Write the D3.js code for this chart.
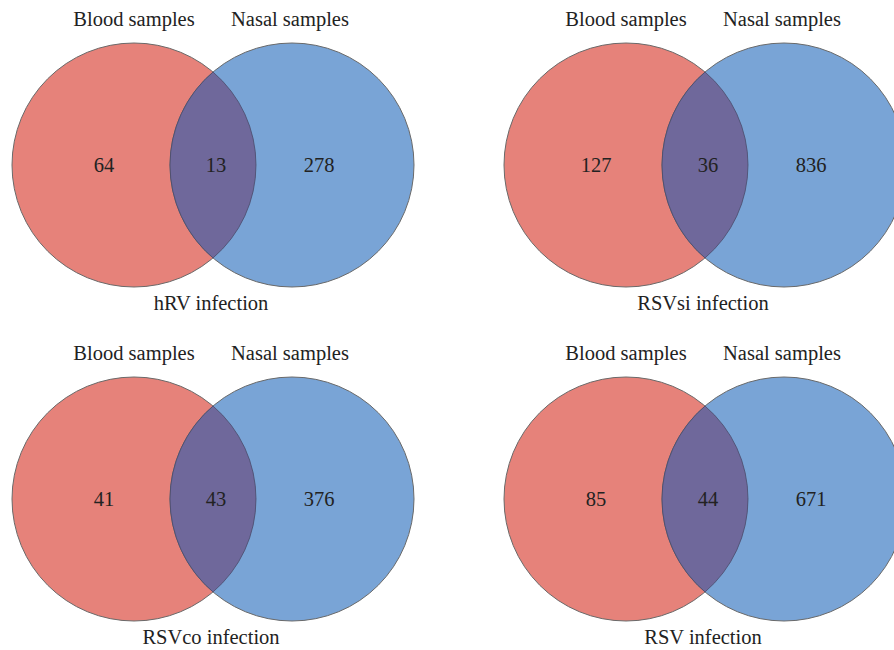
<!DOCTYPE html>
<html>
<head>
<meta charset="utf-8">
<script src="https://cdn.jsdelivr.net/npm/d3@7"></script>
<style>
  body { margin: 0; background: #fff; }
</style>
</head>
<body>
<div id="chart"></div>
<script>
var width = 894;
var height = 650;

// one entry per panel, read left-to-right, top-to-bottom
const titles = ["hRV infection", "RSVsi infection", "RSVco infection", "RSV infection"];
const bloodOnly = [64, 127, 41, 85];
const shared = [13, 36, 43, 44];
const nasalOnly = [278, 836, 376, 671];
const setNames = ["Blood samples", "Nasal samples"];

var svg = d3.select("#chart").append("svg")
  .attr("width", width)
  .attr("height", height);

// panel placement
var col = d3.scaleOrdinal().domain([0, 1]).range([134, 626]); // left circle centre x
var row = d3.scaleOrdinal().domain([0, 1]).range([165, 499]); // circle centre y
var r = 122;
var gap = 158; // distance between the two centres

var panels = titles.map((t, i) => ({
  title: t, a: bloodOnly[i], ab: shared[i], b: nasalOnly[i],
  cx: col(i % 2), cy: row(Math.floor(i / 2))
}));

var g = svg.selectAll("g.panel")
  .data(panels)
  .join("g")
  .attr("class", "panel")
  .attr("transform", d => `translate(${d.cx},${d.cy})`);

// lens of the overlap
function lens() {
  var h = Math.sqrt(r * r - (gap / 2) * (gap / 2));
  return `M${gap / 2},${-h} A${r},${r} 0 0,1 ${gap / 2},${h} A${r},${r} 0 0,1 ${gap / 2},${-h} Z`;
}

g.append("circle")
  .attr("cx", 0).attr("cy", 0).attr("r", r)
  .attr("fill", "#e6827a")
  .attr("stroke", "#6a6a6a").attr("stroke-width", 1);

g.append("circle")
  .attr("cx", gap).attr("cy", 0).attr("r", r)
  .attr("fill", "#79a4d6")
  .attr("stroke", "#6a6a6a").attr("stroke-width", 1);

g.append("path")
  .attr("d", lens())
  .attr("fill", "#6f689b")
  .attr("stroke", "#4a4a6a").attr("stroke-width", 0.8);

var fs = 20.5;

function label(x, y, txt) {
  g.append("text")
    .attr("x", x).attr("y", y)
    .attr("text-anchor", "middle")
    .attr("font-size", fs)
    .attr("font-family", "'Liberation Serif', serif")
    .attr("fill", "#222")
    .text(txt);
}

// set names above circles
label(0, -139, setNames[0]);
label(gap - 2, -139, setNames[1]);

// counts
label(-30, 7, d => d.a);
label(gap / 2 + 3, 7, d => d.ab);
label(gap + 27, 7, d => d.b);

// panel title
label(gap / 2 - 2, 145, d => d.title);
</script>
</body>
</html>
